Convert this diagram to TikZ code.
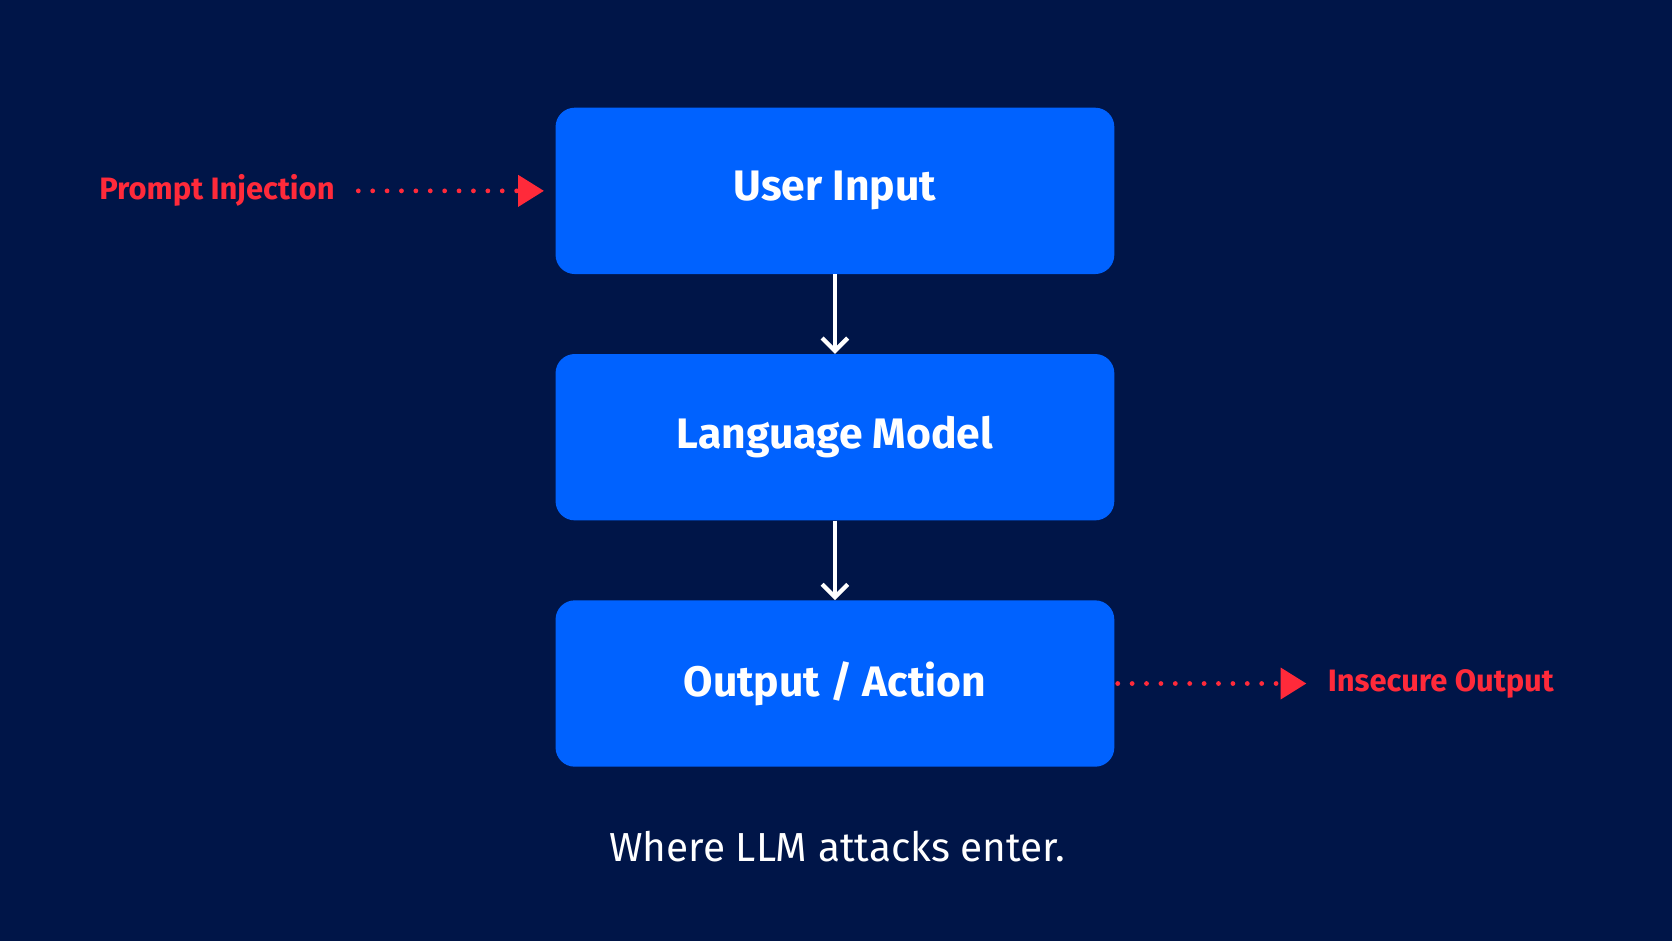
\documentclass[tikz,border=0pt]{standalone}
\usepackage{fontspec}
\setmainfont{Fira Sans}
\usetikzlibrary{arrows.meta}
\definecolor{bg}{HTML}{001548}
\definecolor{boxc}{HTML}{0062FF}
\definecolor{redc}{HTML}{FF2A3A}
\begin{document}
\begin{tikzpicture}[x=1pt,y=-1pt,
  box/.style={fill=boxc,rounded corners=18pt,minimum width=524pt,minimum height=156pt,inner sep=0pt,text=white,font=\fontsize{40}{48}\selectfont\bfseries},
  lab/.style={text=redc,font=\fontsize{29}{34}\selectfont\bfseries,inner sep=0pt},
  flow/.style={draw=white,line width=4pt,-{Straight Barb[length=12pt,width=24pt,line width=4pt]}},
  atk/.style={draw=redc,line width=4.5pt,line cap=round,dash pattern=on 0pt off 13.5pt,-{Triangle[length=24pt,width=30pt,line width=0pt]}}]
\fill[bg] (0,0) rectangle (1568,882);
\useasboundingbox (0,0) rectangle (1568,882);
\node[box] (u) at (783,179) {User Input};
\node[box] (l) at (783,410) {Language Model};
\node[box] (o) at (783,641) {Output / Action};
\draw[flow] (u.south) -- (l.north);
\draw[flow] (l.south) -- (o.north);
\node[lab,anchor=east] (p) at (314,179) {Prompt Injection};
\coordinate (pa) at (510,179);
\draw[atk] ([xshift=22pt]p.east) -- (pa);
\node[lab,anchor=west] (i) at (1245,641) {Insecure Output};
\coordinate (ia) at (1225,641);
\draw[atk] ([xshift=3pt]o.east) -- (ia);
\node[text=white,font=\fontsize{38}{46}\selectfont\mdseries,inner sep=0pt] (c) at (785,794) {Where LLM attacks enter.};
\end{tikzpicture}
\end{document}
